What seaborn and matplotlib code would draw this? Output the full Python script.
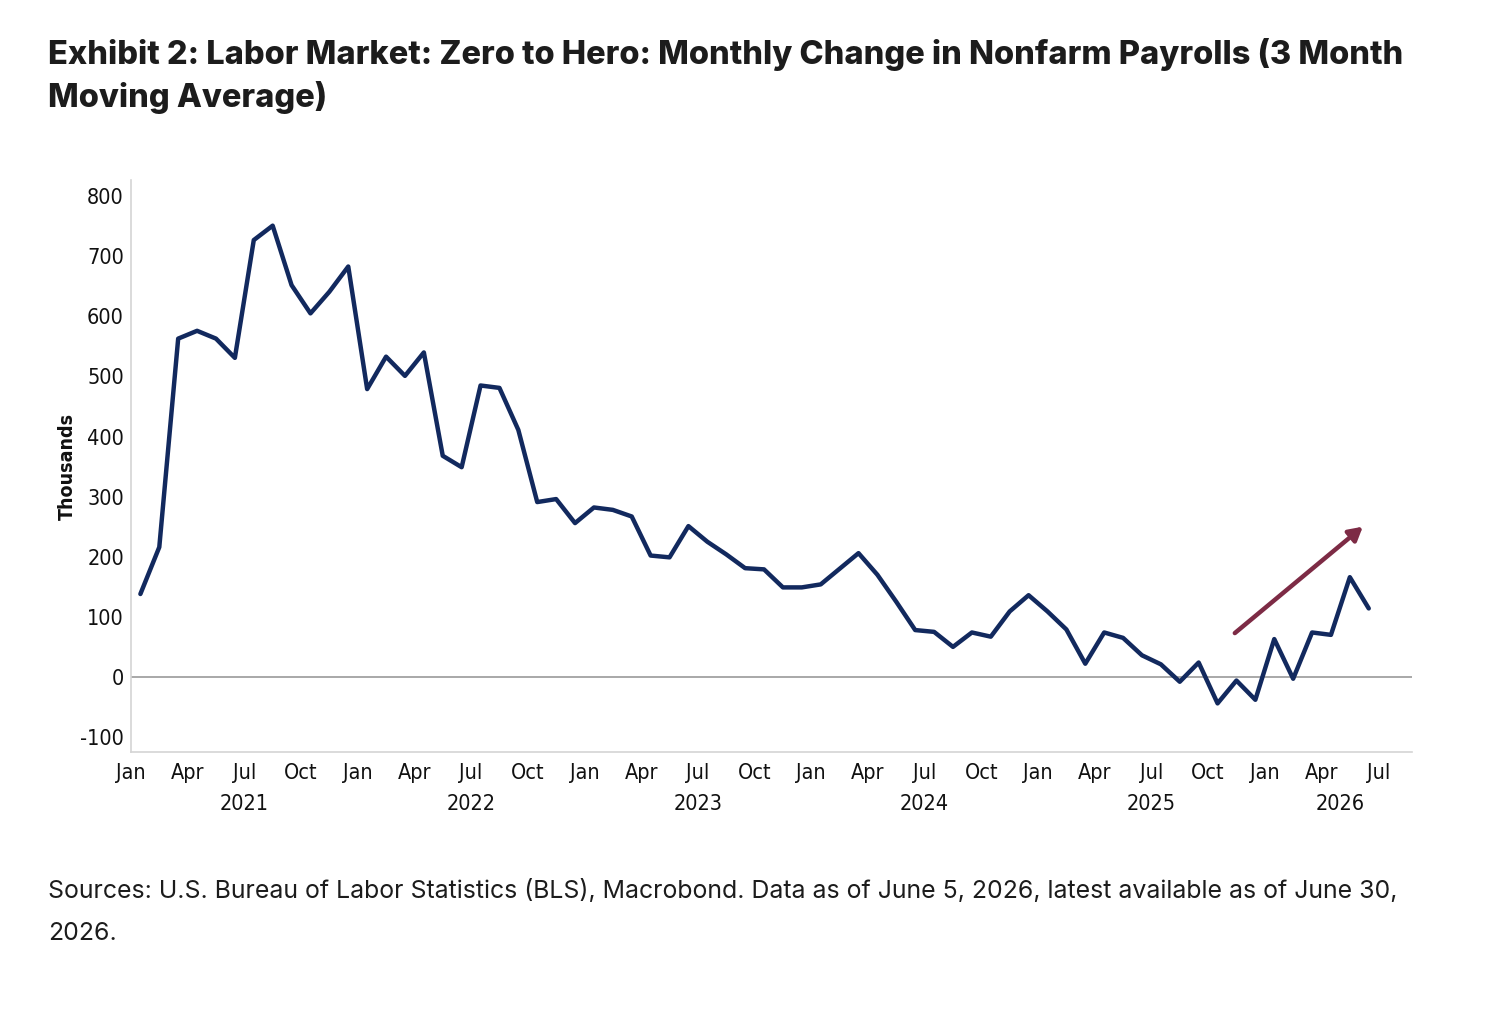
import matplotlib
matplotlib.use('Agg')
import matplotlib.pyplot as plt
import matplotlib.transforms as mtransforms
import numpy as np
import pandas as pd
import seaborn as sns

# 3 month moving average of monthly change in nonfarm payrolls, thousands (Jan 2021 - Jun 2026)
payrolls = [138, 216, 563, 576, 563, 531, 727, 751, 652, 605, 641, 683,
            479, 533, 501, 540, 368, 349, 485, 481, 411, 291, 296, 256,
            282, 278, 267, 202, 199, 251, 225, 204, 181, 179, 149, 149,
            154, 180, 206, 170, 125, 78, 75, 50, 74, 67, 109, 136,
            109, 79, 22, 74, 65, 36, 21, -8, 24, -44, -6, -38,
            63, -3, 74, 70, 166, 114]
month_names = ['Jan', 'Apr', 'Jul', 'Oct']
years = ['2021', '2022', '2023', '2024', '2025', '2026']
year_pos = [6, 18, 30, 42, 54, 64]
y_ticks = [-100, 0, 100, 200, 300, 400, 500, 600, 700, 800]
arrow_start = (58.3, 70)
arrow_end = (65.3, 253)

title = ('Exhibit 2: Labor Market: Zero to Hero: Monthly Change in Nonfarm Payrolls (3 Month\n'
         'Moving Average)')
source = ('Sources: U.S. Bureau of Labor Statistics (BLS), Macrobond. Data as of June 5, 2026, latest available as of June 30,\n'
          '2026.')

df = pd.DataFrame({'x': np.arange(len(payrolls)) + 0.5, 'value': payrolls})

sns.set_style('white')
plt.rcParams['font.family'] = ['Inter', 'DejaVu Sans']
tick_font = dict(family='DejaVu Sans', stretch='condensed', size=15.5)

fig = plt.figure(figsize=(15.12, 10.10), dpi=100)
ax = fig.add_axes([0.0866, 0.2554, 0.8474, 0.5664])

sns.lineplot(data=df, x='x', y='value', ax=ax, color='#12295e', linewidth=3.2)
ax.axhline(0, color='#9a9a9a', linewidth=1.2, zorder=1)

ax.annotate('', xy=arrow_end, xytext=arrow_start,
            arrowprops=dict(arrowstyle='-|>,head_length=0.8,head_width=0.45',
                            color='#7d2b45', lw=3.2))

ax.set_xlim(0, 67.8)
ax.set_ylim(-125, 827)
ax.set_yticks(y_ticks)
ax.set_yticklabels([str(v) for v in y_ticks], fontdict=tick_font, color='#111111')
xt = np.arange(0, 67, 3)
ax.set_xticks(xt)
ax.set_xticklabels([month_names[i % 4] for i in range(len(xt))], fontdict=tick_font,
                   color='#111111')
ax.tick_params(axis='both', length=0, pad=5)
ax.tick_params(axis='x', pad=8)

trans = mtransforms.blended_transform_factory(ax.transData, ax.transAxes)
for yr, pos in zip(years, year_pos):
    ax.text(pos, -0.09, yr, transform=trans, ha='center', va='center',
            color='#111111', **tick_font)

ax.set_xlabel('')
ax.set_ylabel('Thousands', family='DejaVu Sans', stretch='condensed', fontsize=14,
              fontweight='bold', labelpad=2, color='#111111')

sns.despine(ax=ax)
for s in ['left', 'bottom']:
    ax.spines[s].set_color('#d4d4d4')
    ax.spines[s].set_linewidth(1.2)

fig.text(0.032, 0.962, title, ha='left', va='top', fontsize=23.45, fontweight='heavy',
         color='#1c1c1c', linespacing=1.36)
fig.text(0.032, 0.130, source, ha='left', va='top', fontsize=17.9, color='#1c1c1c',
         linespacing=2.1)

fig.savefig('out.png', dpi=100, facecolor='white')
